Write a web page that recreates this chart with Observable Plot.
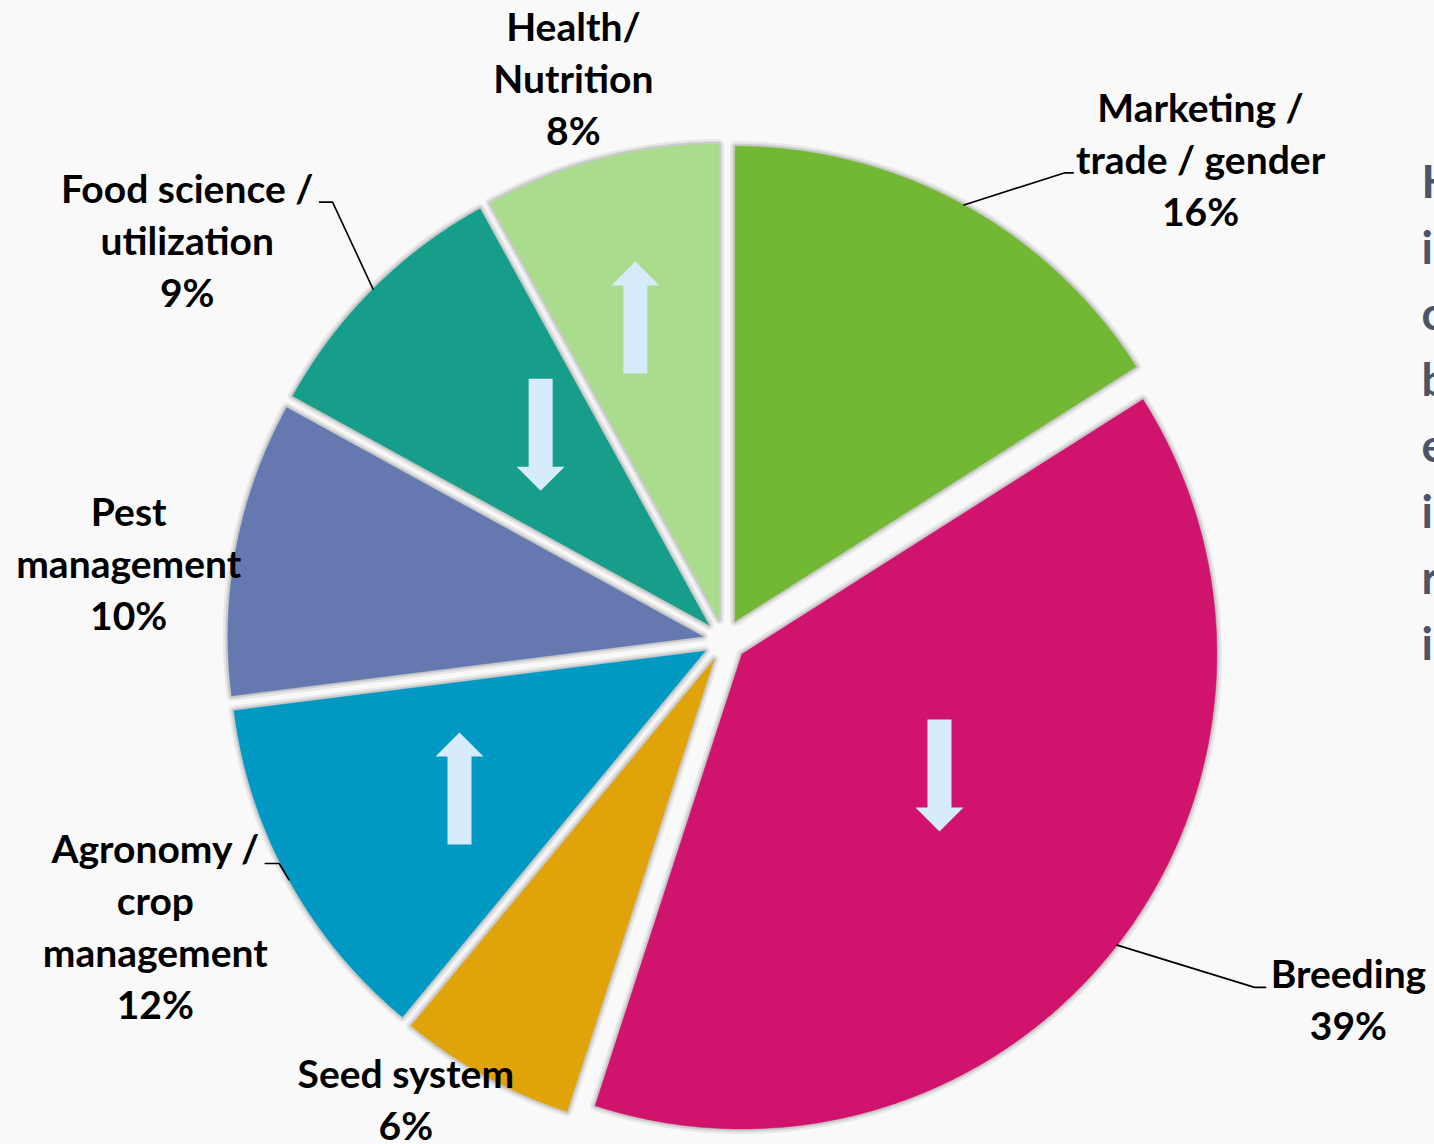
<!DOCTYPE html>
<html><head><meta charset="utf-8">
<script src="https://cdn.jsdelivr.net/npm/d3@7"></script>
<script src="https://cdn.jsdelivr.net/npm/@observablehq/plot@0.6"></script>
<style>
html,body{margin:0;padding:0;background:#f9f9f9;overflow:hidden;}
#chart svg{display:block}
</style></head><body><div id="chart"></div>
<script>
// ---- data ----
const categories = ["Marketing / trade / gender","Breeding","Seed system","Agronomy / crop management","Pest management","Food science / utilization","Health/ Nutrition"];
const shares = [16, 39, 6, 12, 10, 9, 8];
const labelLines = [["Marketing /","trade / gender"],["Breeding"],["Seed system"],["Agronomy /","crop","management"],["Pest","management"],["Food science /","utilization"],["Health/","Nutrition"]];
const trends = ["", "down", "", "up", "", "down", "up"];
const colors = ["#72b834","#d0136c","#e0a30a","#0099c4","#6579b0","#169e8a","#a9dc8c"];
const sideLetters = ["H","i","c","b","e","i","r","i"];

// ---- layout ----
const W = 1434, H = 1144;
const C = [724, 640], R = 475, explode = 22;
// label block centres, polar from pie centre [deg clockwise from 12 o'clock, px]
const labelPolar = [[44.6,678],[119.8,719],[214.9,557],[243.5,636],[277.55,601],[306.8,671],[345.0,584]];
// leader elbows (null = no leader), polar from centre, plus tail length
const leaderPolar = [[36.0,578,9],[123.2,633.5,11],null,[243.4,498,-14],null,[318.2,588,-13],null];
// arrow centres, polar from slice apex
const arrowPolar = [null,[121.6,232],null,[240.8,281.5],null,[318.5,254],[344.5,313]];

const rad = d => d * Math.PI / 180;
const pt = (o, a, r) => [o[0] + r * Math.sin(rad(a)), o[1] - r * Math.cos(rad(a))];

const total = d3.sum(shares);
let acc = 0;
const slices = categories.map((cat, i) => {
  const a0 = acc / total * 360; acc += shares[i]; const a1 = acc / total * 360;
  const mid = (a0 + a1) / 2;
  const apex = pt(C, mid, explode);
  return {cat, i, a0, a1, mid, apex};
});

const slicePts = [];
for (const s of slices) {
  slicePts.push({cat: s.cat, x: s.apex[0], y: s.apex[1]});
  const n = Math.max(2, Math.ceil((s.a1 - s.a0) * 2));
  for (let k = 0; k <= n; k++) {
    const p = pt(s.apex, s.a0 + (s.a1 - s.a0) * k / n, R);
    slicePts.push({cat: s.cat, x: p[0], y: p[1]});
  }
  slicePts.push({cat: s.cat, x: s.apex[0], y: s.apex[1]});
}

const labels = slices.map(s => {
  const p = pt(C, labelPolar[s.i][0], labelPolar[s.i][1]);
  return {x: p[0], y: p[1], text: [...labelLines[s.i], shares[s.i] + "%"].join("\n")};
});

const leaderPts = [];
for (const s of slices) {
  const L = leaderPolar[s.i]; if (!L) continue;
  const p0 = pt(s.apex, s.mid, R);
  const p1 = pt(C, L[0], L[1]);
  leaderPts.push({k: s.i, x: p0[0], y: p0[1]}, {k: s.i, x: p1[0], y: p1[1]}, {k: s.i, x: p1[0] + L[2], y: p1[1]});
}

// block arrows
const arrowPts = [];
const shaftW = 24, headW = 48, headL = 24, len = 112;
for (const s of slices) {
  const A = arrowPolar[s.i]; if (!A || !trends[s.i]) continue;
  const c = pt(s.apex, A[0], A[1]);
  const sg = trends[s.i] === "up" ? -1 : 1;
  const tipY = c[1] + sg * len / 2, tailY = c[1] - sg * len / 2, baseY = tipY - sg * headL;
  const poly = [[c[0]-shaftW/2, tailY],[c[0]-shaftW/2, baseY],[c[0]-headW/2, baseY],[c[0], tipY],[c[0]+headW/2, baseY],[c[0]+shaftW/2, baseY],[c[0]+shaftW/2, tailY]];
  poly.forEach(p => arrowPts.push({k: s.i, x: p[0], y: p[1]}));
}

const side = sideLetters.map((t, j) => ({t, x: 1421, y: 197 + j * 66}));

const plot = Plot.plot({
  width: W, height: H, margin: 0,
  x: {domain: [0, W], range: [0, W], axis: null},
  y: {domain: [0, H], range: [0, H], axis: null},
  color: {type: "ordinal", domain: categories, range: colors},
  style: {background: "transparent"},
  marks: [
    // soft shadow underlay
    Plot.line(slicePts, {x: "x", y: "y", z: "cat", stroke: "#000", strokeOpacity: 0.07, strokeWidth: 10, strokeLinejoin: "round", curve: "linear"}),
    Plot.line(slicePts, {x: "x", y: "y", z: "cat", stroke: "#000", strokeOpacity: 0.12, strokeWidth: 5, strokeLinejoin: "round", curve: "linear"}),
    Plot.line(slicePts, {x: "x", y: "y", z: "cat", stroke: "cat", fill: "cat", strokeWidth: 0.5, curve: "linear"}),
    Plot.line(arrowPts, {x: "x", y: "y", z: "k", fill: "#d6ebfb", stroke: "none", curve: "linear"}),
    Plot.line(leaderPts, {x: "x", y: "y", z: "k", stroke: "#000", strokeWidth: 1.6, curve: "linear"}),
    Plot.text(labels, {x: "x", y: "y", text: "text", lineAnchor: "middle", textAnchor: "middle", fontSize: 39, fontWeight: "bold", fontFamily: "Lato", lineHeight: 1.333, fill: "#000"}),
    Plot.text(side, {x: "x", y: "y", text: "t", textAnchor: "start", lineAnchor: "bottom", fontSize: 45, fontWeight: "bold", fontFamily: "Lato", fill: "#4a5568"})
  ]
});
document.getElementById("chart").append(plot);
</script>
</body></html>
